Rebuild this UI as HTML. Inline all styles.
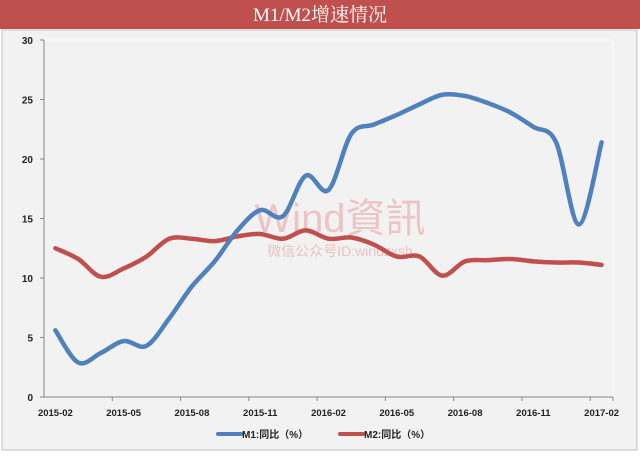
<!DOCTYPE html>
<html><head><meta charset="utf-8"><style>
body{margin:0;width:640px;height:453px;overflow:hidden;background:#fff;font-family:"Liberation Sans","Noto Sans CJK SC",sans-serif}
</style></head><body>
<svg width="640" height="453">
<rect x="0" y="0" width="640" height="453" fill="#fff"/>
<rect x="2" y="30" width="635" height="420" fill="#f2f2f2" stroke="#bfbfbf"/>
<rect x="0" y="0" width="640" height="29" fill="#c0504d"/>
<text x="320" y="21" text-anchor="middle" fill="#fff" font-size="19" font-family="Liberation Serif,'Noto Serif CJK SC',serif">M1/M2增速情况</text>
<rect x="44" y="40" width="569" height="357" fill="none" stroke="#ffffff"/>
<g id="axes"></g>
<text x="340" y="232" text-anchor="middle" fill="#e8a0a0" opacity="0.55" font-size="40">Wind資訊</text>
<text x="340" y="256" text-anchor="middle" fill="#e8a0a0" opacity="0.6" font-size="14">微信公众号ID:windzxsh</text>
<g id="series"></g>
<g>
<line x1="218" y1="434" x2="241" y2="434" stroke="#4f81bd" stroke-width="4" stroke-linecap="round"/>
<text x="242" y="438" font-size="10" font-weight="bold" fill="#222">M1:同比（%）</text>
<line x1="340" y1="434" x2="363" y2="434" stroke="#c0504d" stroke-width="4" stroke-linecap="round"/>
<text x="364" y="438" font-size="10" font-weight="bold" fill="#222">M2:同比（%）</text>
</g>
</svg>
<script>
const categories=["2015-02","2015-03","2015-04","2015-05","2015-06","2015-07","2015-08","2015-09","2015-10","2015-11","2015-12","2016-01","2016-02","2016-03","2016-04","2016-05","2016-06","2016-07","2016-08","2016-09","2016-10","2016-11","2016-12","2017-01","2017-02"];
const m1=[5.6,2.9,3.7,4.7,4.3,6.6,9.3,11.4,14.0,15.7,15.2,18.6,17.4,22.1,22.9,23.7,24.6,25.4,25.3,24.7,23.9,22.7,21.4,14.5,21.4];
const m2=[12.5,11.6,10.1,10.8,11.8,13.3,13.3,13.1,13.5,13.7,13.3,14.0,13.3,13.4,12.8,11.8,11.8,10.2,11.4,11.5,11.6,11.4,11.3,11.3,11.1];
const yTicks=[0,5,10,15,20,25,30];
const ns="http://www.w3.org/2000/svg";
const X0=44,X1=613,Y0=397,Y1=40;
const bw=(X1-X0)/categories.length;
const xs=i=>X0+bw*(i+0.5);
const ys=v=>Y0-(v-0)/(30-0)*(Y0-Y1);
function mk(t,a,p){const e=document.createElementNS(ns,t);for(const k in a)e.setAttribute(k,a[k]);p.appendChild(e);return e;}
const ax=document.getElementById('axes');
let yl=mk('line',{x1:X0,y1:Y1,x2:X0,y2:Y0,stroke:'#888'},ax);


let xl=mk('line',{x1:X0,y1:Y0,x2:X1,y2:Y0,stroke:'#888'},ax);


yTicks.forEach(v=>{
 mk('line',{x1:X0-4,y1:ys(v),x2:X0,y2:ys(v),stroke:'#888'},ax);
 const t=mk('text',{x:X0-11,y:ys(v)+4,'text-anchor':'end','font-size':10,'font-weight':'bold',fill:'#222'},ax);
 t.textContent=v;
 
 
});
for(let i=0;i<categories.length;i++){
 if(i%3===0 && i>0) mk('line',{x1:X0+bw*i,y1:Y0,x2:X0+bw*i,y2:Y0+4,stroke:'#888'},ax);
 if(i%3===0){
  const t=mk('text',{x:xs(i),y:Y0+19,'text-anchor':'middle','font-size':9.5,'font-weight':'bold',fill:'#222'},ax);
  t.textContent=categories[i];
  
  
 }
}
mk('line',{x1:X1,y1:Y0,x2:X1,y2:Y0+4,stroke:'#888'},ax);
function path(vals){
 const p=vals.map((v,i)=>[xs(i),ys(v)]);
 let d='M'+p[0][0]+','+p[0][1];
 for(let i=0;i<p.length-1;i++){
  const a=p[i-1]||p[i],b=p[i],c=p[i+1],e=p[i+2]||c,k=6;
  d+=` C${b[0]+(c[0]-a[0])/k},${b[1]+(c[1]-a[1])/k} ${c[0]-(e[0]-b[0])/k},${c[1]-(e[1]-b[1])/k} ${c[0]},${c[1]}`;
 }
 return d;
}
const sg=document.getElementById('series');
const l2=mk('path',{d:path(m2),fill:'none',stroke:'#c0504d','stroke-width':4.5,'stroke-linecap':'round'},sg);


const l1=mk('path',{d:path(m1),fill:'none',stroke:'#4f81bd','stroke-width':4.5,'stroke-linecap':'round'},sg);


</script>
</body></html>
